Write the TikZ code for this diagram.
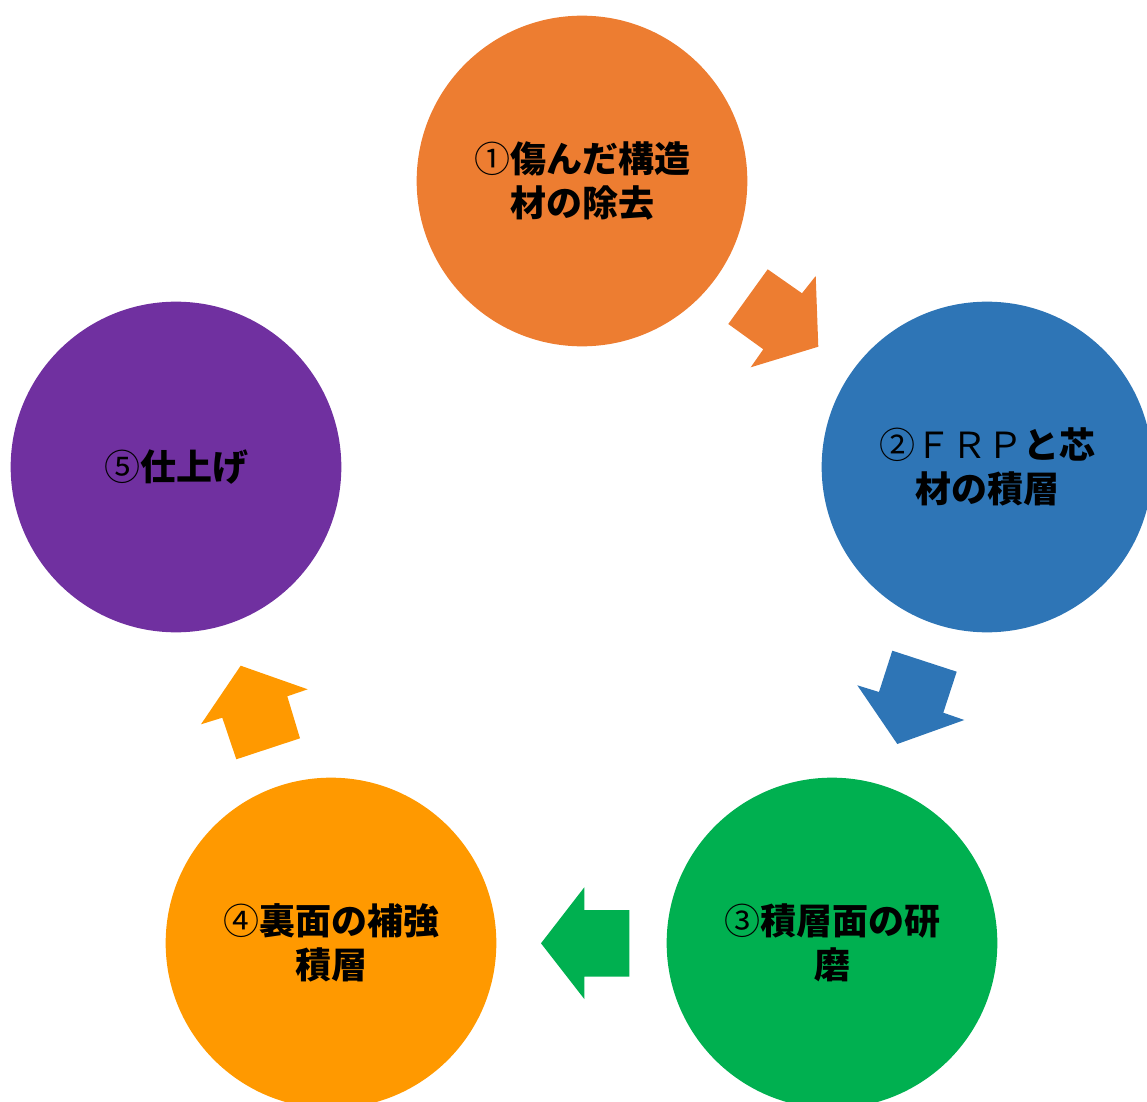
\documentclass[tikz,border=0pt]{standalone}
\usepackage{fontspec}
\newfontfamily\jp{Noto Sans CJK JP}
\definecolor{cOrange}{HTML}{ED7D31}
\definecolor{cBlue}{HTML}{2E75B6}
\definecolor{cGreen}{HTML}{00B050}
\definecolor{cAmber}{HTML}{FF9900}
\definecolor{cPurple}{HTML}{7030A0}
\newcommand{\circnum}[1]{{\mdseries #1}}
\tikzset{
  stepcircle/.style={circle, minimum size=248pt, inner sep=0pt, align=center,
    font=\jp\bfseries\fontsize{27}{33}\selectfont, text=black}
}
\begin{document}
\begin{tikzpicture}[x=0.75pt,y=-0.75pt]
\path[use as bounding box] (0,0) rectangle (1147,1102);
\clip (0,0) rectangle (1147,1102);
% circles
\node[stepcircle, fill=cOrange] (s1) at (582,181) {\circnum{①}傷んだ構造\\材の除去};
\node[stepcircle, fill=cBlue]   (s2) at (987,467) {\circnum{②ＦＲＰ}と芯\\材の積層};
\node[stepcircle, fill=cGreen]  (s3) at (832,943) {\circnum{③}積層面の研\\磨};
\node[stepcircle, fill=cAmber]  (s4) at (331,943) {\circnum{④}裏面の補強\\積層};
\node[stepcircle, fill=cPurple] (s5) at (176,467) {\circnum{⑤}仕上げ};
% arrows
\fill[cOrange] (767.7,269.3) -- (802,293.3) -- (815.7,276) -- (818.3,346.7) -- (750.7,367.3) -- (763.3,349.3) -- (728.3,324) -- cycle;
\fill[cBlue] (892.3,650.7) -- (956.7,671.7) -- (943.3,712.7) -- (964.3,720) -- (897.3,744) -- (857.3,685.3) -- (879,692) -- cycle;
\fill[cGreen] (629.3,910) -- (629.3,976.7) -- (584.3,976.7) -- (584.3,999) -- (541,943.3) -- (584.3,887.3) -- (584.3,910) -- cycle;
\fill[cAmber] (240.7,665.7) -- (307.7,689.3) -- (287.3,696.3) -- (300,738.3) -- (236.3,759.3) -- (222.3,717.7) -- (201,724.3) -- cycle;
\end{tikzpicture}
\end{document}
